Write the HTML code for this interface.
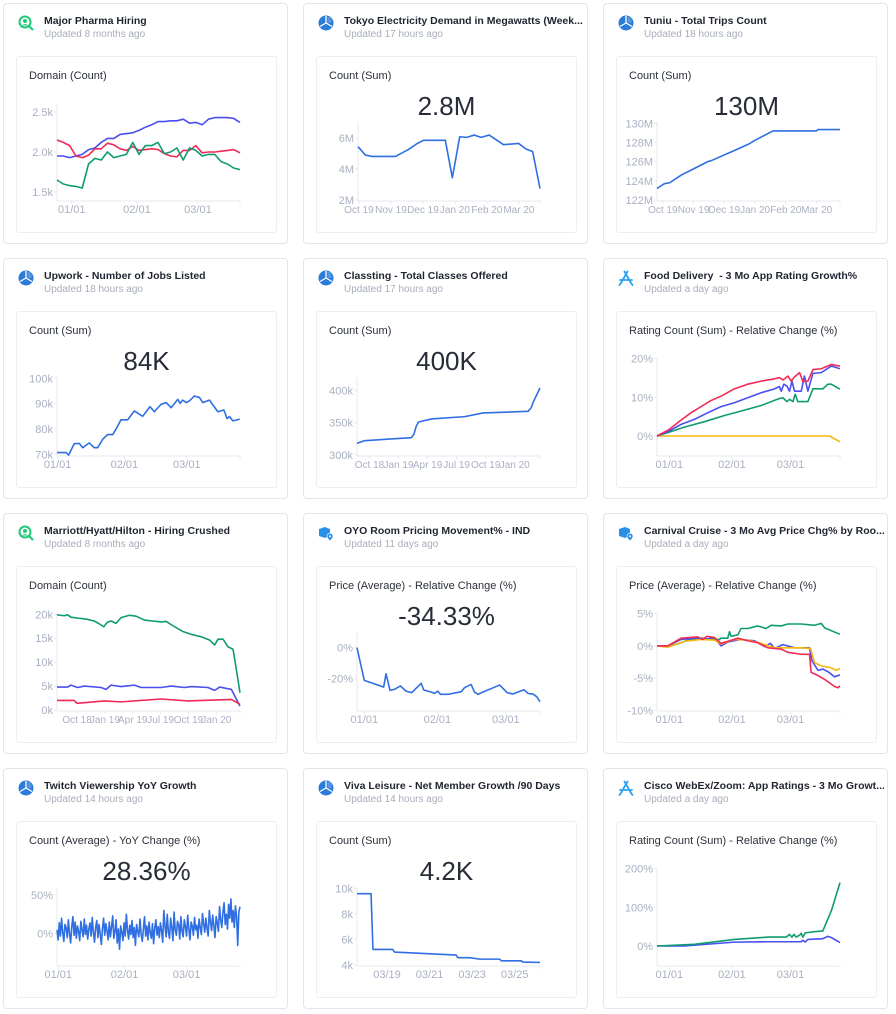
<!DOCTYPE html>
<html><head><meta charset="utf-8">
<style>
*{box-sizing:border-box;margin:0;padding:0}
body{width:896px;height:1014px;background:#fff;font-family:"Liberation Sans",sans-serif;position:relative;overflow:hidden}
.card{position:absolute;width:285px;height:241px;border:1px solid #e2e5ea;border-radius:4px;background:#fff}
.panel{position:absolute;left:12px;top:52px;width:261px;height:177px;border:1px solid #eceef2;border-radius:3px}
.title{position:absolute;left:40px;top:11px;max-width:240px;overflow:hidden;font-size:10.5px;font-weight:bold;color:#1f2430;white-space:nowrap}
.sub{position:absolute;left:40px;top:25px;font-size:10px;color:#a7adba;white-space:nowrap}
.ptitle{position:absolute;left:25px;top:66px;font-size:11px;color:#2b303b;white-space:nowrap}
.big{position:absolute;left:12px;width:261px;top:87px;text-align:center;font-size:26px;color:#272c38}
.icon{position:absolute;left:14px;top:11px;width:16px;height:16px}
svg.ch{position:absolute;left:0;top:0}
</style></head><body>
<script>
// ---------- DATA ----------
const pharmaX=[-7,-4,-1,2,5,8,11,14,17,20,23,26,29,32,35,38,41,44,47,50,53,56,59,62,65,68,71,74,77,80];
const pharmaBlue=[1.95,1.95,1.93,1.95,1.97,2.03,2.05,2.12,2.17,2.17,2.22,2.23,2.24,2.27,2.31,2.34,2.38,2.38,2.39,2.39,2.41,2.36,2.37,2.34,2.41,2.43,2.43,2.43,2.42,2.37];
const pharmaRed=[2.15,2.12,2.08,1.95,1.93,1.96,2.04,2.04,2.11,2.09,2.04,2.02,2.07,2.02,2.03,2.04,2.03,1.98,1.95,1.94,2.02,2.02,2.08,1.99,2.0,2.0,2.01,2.02,2.03,1.99];
const pharmaGreen=[1.65,1.6,1.58,1.57,1.55,1.85,1.92,1.9,2.0,1.93,1.95,1.97,2.12,1.97,2.08,2.08,2.12,1.98,2.0,2.05,1.9,2.05,2.02,1.95,1.97,1.97,1.88,1.85,1.8,1.78];
const tokyoX=[-0.03,0.2,0.41,1.14,1.55,1.81,2.02,2.7,2.92,3.15,3.37,3.6,3.82,4.07,4.52,4.99,5.22,5.43,5.66];
const tokyoY=[5.44,4.9,4.81,4.81,5.26,5.63,5.85,5.85,3.44,6.08,6.04,6.19,6.04,6.19,5.57,5.65,5.29,5.13,2.74];
const tuniuX=[-0.19,0.05,0.22,0.6,1.03,1.46,1.57,2.28,2.77,3.04,3.58,4.99,5.05,5.76];
const tuniuY=[123.2,123.7,123.8,124.6,125.3,126.0,126.1,127.1,127.8,128.3,129.2,129.2,129.35,129.35];
const upworkX=[-0.3,3.9,5.1,7.7,10.1,11.6,14.7,17.0,18.6,20.9,23.2,25.6,27.1,29.4,32.5,35.6,39.5,42.9,44.9,48.0,50.4,52.7,55.8,56.9,58.1,59.7,61.2,63.5,65.9,67.4,70.5,74.4,77.2,78.7,79.8,81.4,84.6];
const upworkY=[70.7,70.7,69.7,74.2,74.3,72.6,74.5,72.6,72.6,75.9,77.8,77.8,79.9,83.6,83.6,87.1,85.0,88.8,86.8,89.7,90.4,88.4,91.7,90.1,91.4,90.4,91.1,93.0,92.4,90.4,91.4,86.8,87.5,84.1,84.9,83.2,83.9];
const classX=[-0.43,-0.17,1.44,1.53,1.61,1.69,2.13,3.28,3.91,5.46,5.57,5.63,5.87];
const classY=[318,322.2,326.8,332,344.8,351,355.7,359.3,365,367.5,373.2,381,403.6];
const foodRed=[[-6.1,0],[0,1.7],[5.8,4.1],[10.7,6],[15.7,7.6],[20.7,9.2],[25.6,10.3],[32.2,12.2],[38.8,13.4],[45.5,14.2],[52.1,14.8],[54.5,15.1],[56.2,14.5],[58.7,15.5],[60.3,14.2],[62,15.3],[64.5,16.4],[66.1,14.1],[68.6,14.2],[71.1,17.2],[75.2,17.4],[80.2,18.5],[84.5,18.1]];
const foodBlue=[[-6.1,0],[0,1.3],[5.8,3],[12.4,4.3],[19,6],[25.6,7.6],[32.2,8.6],[38.8,9.9],[45.5,11.2],[52.1,12.2],[54.5,12.8],[55.4,11.6],[56.7,13.4],[58.3,12.9],[59.5,11.6],[60.7,14.2],[62,11.6],[65.3,11.6],[66.9,15.5],[68.6,11.6],[71.1,16.2],[75.2,16.4],[80.2,18.1],[84.5,17.4]];
const foodGreen=[[-6.1,0],[0,1],[7.4,2.3],[17.4,3.7],[27.3,5.3],[37.2,6.7],[45.5,7.9],[54.5,9.7],[56.2,9.9],[58.3,8.9],[59.5,9.5],[61.2,8.9],[62.3,10.8],[63.6,8.9],[68.6,8.9],[71.1,12.2],[76,12.2],[78.5,13.4],[80.2,13.4],[84.5,12.1]];
const foodYellow=[[-6.1,0],[79.3,0],[84.5,-1.5]];
const marX=[-0.72,-0.46,-0.34,-0.22,0.02,0.32,0.62,0.8,0.96,1.08,1.22,1.4,1.58,1.88,2.12,2.42,2.72,3.02,3.2,3.5,3.8,4.1,4.46,4.76,4.94,5.06,5.24,5.42,5.6,5.69,5.85];
const marGreen=[19.9,19.7,19.9,19.4,19.2,19,18.6,18,17.4,18.3,18.6,18.1,19.3,19.8,19.6,18.8,18.6,18.4,18.5,17.4,16.4,15.8,15.3,14.6,13.6,14.8,14.8,13.2,12.7,9.5,3.6];
const marBlue=[[-0.72,4.8],[-0.34,4.8],[-0.22,5.2],[0.02,4.7],[0.26,5],[0.86,4.7],[1.04,4.3],[1.22,5.2],[1.58,4.9],[2.06,5.2],[2.3,4.7],[3.02,4.7],[3.38,5],[3.86,4.7],[4.1,4.9],[4.7,4.7],[4.94,4.1],[5.12,4.8],[5.54,4.3],[5.85,0.8]];
const marRed=[[-0.72,2],[-0.1,2],[0,1.4],[0.98,1.9],[1.58,1.7],[3.02,2.3],[3.98,1.9],[5.54,2.2],[5.85,1.2]];
const oyoX=[-3.1,0,8.2,9.2,10.9,12.7,15.3,17.7,20.1,24.1,25.2,28.3,29.7,31.2,32.3,35.4,41.1,42.5,45.3,46.7,48.2,50.3,57.4,60.6,63,67.7,69.4,71.5,73.1,74.5];
const oyoY=[0,-21.1,-25.4,-16.8,-27.5,-26.9,-24.7,-28,-29,-23,-27.3,-28.6,-29.5,-28,-30.1,-30.1,-28.4,-25.8,-23.7,-28.6,-30.1,-28.6,-24.1,-29,-29.9,-27.1,-29.5,-29.9,-31.6,-34.8];
const carGreen=[[-6.1,0],[-0.8,0],[4.1,0.3],[9.1,0.9],[15.7,1.2],[22.3,1],[24.8,1],[25.6,1.2],[28.9,1.2],[29.8,2.2],[30.6,1.5],[33.9,1.7],[35.5,2.7],[38.8,2.7],[43.8,3.1],[47.9,2.7],[50.4,3.2],[55.4,3.1],[58.7,3.4],[65.3,3.4],[71.9,3.2],[75.2,3.5],[76.9,2.8],[84.5,1.8]];
const carBlue=[[-6.1,0],[-0.8,0],[5.8,1],[12.4,1.2],[19,1.1],[22.3,1.3],[25.6,0],[28.9,0.6],[32.2,0.8],[35.5,1],[42.1,0.8],[47.1,-0.1],[50.1,0.4],[52.1,-0.4],[56.2,0.2],[62,-0.3],[69.4,-0.3],[70.6,-2.3],[73.6,-3.8],[76,-3.6],[78.5,-4],[81.8,-4.8],[84.5,-4.5]];
const carRed=[[-6.1,0],[-0.8,0],[5.8,1.2],[14,1.4],[16.5,1],[18.7,1.5],[22.3,1.3],[25.6,0.4],[28.9,0.7],[33.9,1.2],[38.8,0.8],[43.8,0.5],[48.8,-0.3],[55.4,-0.5],[58.7,-1],[65.3,-1.3],[69.4,-1.3],[70.2,-4.1],[73.6,-4.6],[76.9,-5.2],[81.8,-6.3],[83.5,-6.5],[84.5,-6.2]];
const carYellow=[[-6.1,0],[-0.8,-0.2],[7.4,0.7],[15.7,1],[22.3,0.9],[25.6,0.3],[32.2,1],[38.8,0.9],[45.5,0.4],[52.1,-0.3],[58.7,-0.3],[65.3,-0.3],[69.9,-0.4],[71.9,-2.6],[75.2,-3.1],[80.2,-3.4],[82.6,-3.8],[84.5,-3.5]];
const twitchStart=-0.6, twitchEnd=85;
const twitchY=[5,-8,14,-3,20,2,-10,12,8,-5,18,0,-12,9,22,-2,15,-6,10,3,-9,16,5,-4,19,-1,11,-7,6,14,-3,21,2,-11,8,17,-5,12,0,-14,7,20,-2,13,4,-8,15,-4,9,23,-6,3,18,-12,6,-20,10,2,-9,14,-3,25,5,-7,11,-1,17,-5,8,-15,12,3,-4,19,0,-10,6,22,-3,10,-8,15,1,-6,13,-13,7,18,-2,9,-5,14,4,-11,30,10,-4,25,2,-6,20,8,-9,28,5,-2,16,12,-7,22,3,-4,18,9,-3,24,6,-8,15,10,-2,21,5,11,-6,19,8,-1,26,13,2,20,7,-3,30,15,4,24,10,-5,22,14,3,35,18,8,28,40,12,25,6,38,20,45,15,30,8,36,22,-15,28,35];
const vivaX=[17.59,18.25,18.34,19.27,19.35,22.25,22.33,22.88,23.35,24.29,24.37,25.31,25.39,26.19];
const vivaY=[9.58,9.58,5.22,5.22,5.01,4.78,4.57,4.57,4.46,4.46,4.33,4.33,4.23,4.2];
const ciscoGreen=[[-6.1,0],[12.4,4.3],[32.2,17],[48.8,23],[57.9,23],[59.5,30],[60.7,23],[61.7,30],[62.8,23],[64.5,28],[65.3,33],[66.1,23],[67.3,34],[71.9,37],[76,39],[80.2,91],[84.5,164]];
const ciscoBlue=[[-6.1,0],[7.4,0],[32.2,10],[48.8,11],[65.3,11],[66.1,15],[67.3,10],[68.6,17],[76,19],[78.5,25],[80.2,22],[84.5,9]];
const monthTicks=[0,31,60], monthLabels=['01/01','02/01','03/01'];
const m6Ticks=[0,1,2,3,4,5];
const tokyoLabels=['Oct 19','Nov 19','Dec 19','Jan 20','Feb 20','Mar 20'];
const quarterLabels=['Oct 18','Jan 19','Apr 19','Jul 19','Oct 19','Jan 20'];
const vivaTicks=[19,21,23,25], vivaLabels=['03/19','03/21','03/23','03/25'];

const BLUE='#4a4ff0',RED='#f22a55',GREEN='#0f9b72',YEL='#f6b90a',LINE='#2f6fe2';
const zip=(xs,ys)=>xs.map((x,i)=>[x,ys[i]]);
const twitchPts=twitchY.map((v,i)=>[twitchStart+i*(twitchEnd-twitchStart)/(twitchY.length-1),v]);

const cards=[
 {name:'major-pharma-hiring',icon:'hire',t:'Major Pharma Hiring',s:'Updated 8 months ago',p:'Domain (Count)',
  c:{l:53,r:236,top:100,bot:197,xd:[-7,80],yv:[1.5,2.5],yp:[188,108],yt:[1.5,2.0,2.5],yl:['1.5k','2.0k','2.5k'],xt:monthTicks,xl:monthLabels},
  s2:[[zip(pharmaX,pharmaBlue),BLUE],[zip(pharmaX,pharmaRed),RED],[zip(pharmaX,pharmaGreen),GREEN]]},
 {name:'tokyo-electricity',icon:'pie',t:'Tokyo Electricity Demand in Megawatts (Week...',s:'Updated 17 hours ago',p:'Count (Sum)',b:'2.8M',
  c:{l:54,r:236,top:119,bot:197,xd:[-0.03,5.66],yv:[2,6],yp:[196,134],yt:[2,4,6],yl:['2M','4M','6M'],xt:m6Ticks,xl:tokyoLabels},
  s2:[[zip(tokyoX,tokyoY),LINE]]},
 {name:'tuniu-trips',icon:'pie',t:'Tuniu - Total Trips Count',s:'Updated 18 hours ago',p:'Count (Sum)',b:'130M',
  c:{l:53,r:236,top:118,bot:197,xd:[-0.19,5.76],yv:[122,130],yp:[196,119.3],yt:[122,124,126,128,130],yl:['122M','124M','126M','128M','130M'],xt:m6Ticks,xl:tokyoLabels},
  s2:[[zip(tuniuX,tuniuY),LINE]]},
 {name:'upwork-jobs',icon:'pie',t:'Upwork - Number of Jobs Listed',s:'Updated 18 hours ago',p:'Count (Sum)',b:'84K',
  c:{l:53,r:236,top:118,bot:197,xd:[-0.3,84.7],yv:[70,100],yp:[195.3,119.3],yt:[70,80,90,100],yl:['70k','80k','90k','100k'],xt:monthTicks,xl:monthLabels},
  s2:[[zip(upworkX,upworkY),LINE]]},
 {name:'classting-classes',icon:'pie',t:'Classting - Total Classes Offered',s:'Updated 17 hours ago',p:'Count (Sum)',b:'400K',
  c:{l:53,r:236,top:118.7,bot:197,xd:[-0.43,5.87],yv:[300,400],yp:[196,131.3],yt:[300,350,400],yl:['300k','350k','400k'],xt:m6Ticks,xl:quarterLabels},
  s2:[[zip(classX,classY),LINE]]},
 {name:'food-delivery',icon:'app',t:'Food Delivery \u00a0- 3 Mo App Rating Growth%',s:'Updated a day ago',p:'Rating Count (Sum) - Relative Change (%)',
  c:{l:53,r:236,top:98.7,bot:197,xd:[-6.1,84.5],yv:[0,20],yp:[177,99.7],yt:[0,10,20],yl:['0%','10%','20%'],xt:monthTicks,xl:monthLabels},
  s2:[[foodYellow,YEL],[foodGreen,GREEN],[foodBlue,BLUE],[foodRed,RED]]},
 {name:'marriott-hiring',icon:'hire',t:'Marriott/Hyatt/Hilton - Hiring Crushed',s:'Updated 8 months ago',p:'Domain (Count)',
  c:{l:53,r:236,top:98.7,bot:197,xd:[-0.72,5.85],yv:[0,20],yp:[196,100.3],yt:[0,5,10,15,20],yl:['0k','5k','10k','15k','20k'],xt:m6Ticks,xl:quarterLabels},
  s2:[[zip(marX,marGreen),GREEN],[marBlue,BLUE],[marRed,RED]]},
 {name:'oyo-pricing',icon:'box',t:'OYO Room Pricing Movement% - IND',s:'Updated 11 days ago',p:'Price (Average) - Relative Change (%)',b:'-34.33%',
  c:{l:53,r:236,top:118.7,bot:197,xd:[-3.1,74.5],yv:[0,-20],yp:[133.7,164.7],yt:[0,-20],yl:['0%','-20%'],xt:monthTicks,xl:monthLabels},
  s2:[[zip(oyoX,oyoY),LINE]]},
 {name:'carnival-cruise',icon:'box',t:'Carnival Cruise - 3 Mo Avg Price Chg% by Roo...',s:'Updated a day ago',p:'Price (Average) - Relative Change (%)',
  c:{l:53,r:236,top:98.7,bot:197,xd:[-6.1,84.5],yv:[5,-10],yp:[99.7,196.3],yt:[5,0,-5,-10],yl:['5%','0%','-5%','-10%'],xt:monthTicks,xl:monthLabels},
  s2:[[carGreen,GREEN],[carBlue,BLUE],[carYellow,YEL],[carRed,RED]]},
 {name:'twitch-viewership',icon:'pie',t:'Twitch Viewership YoY Growth',s:'Updated 14 hours ago',p:'Count (Average) - YoY Change (%)',b:'28.36%',
  c:{l:53,r:236,top:118.7,bot:197,xd:[-0.6,85],yv:[0,50],yp:[164.7,126],yt:[0,50],yl:['0%','50%'],xt:monthTicks,xl:monthLabels},
  s2:[[twitchPts,LINE]]},
 {name:'viva-leisure',icon:'pie',t:'Viva Leisure - Net Member Growth /90 Days',s:'Updated 14 hours ago',p:'Count (Sum)',b:'4.2K',
  c:{l:53,r:236,top:118.7,bot:197,xd:[17.59,26.19],yv:[4,10],yp:[196,119.3],yt:[4,6,8,10],yl:['4k','6k','8k','10k'],xt:vivaTicks,xl:vivaLabels},
  s2:[[zip(vivaX,vivaY),LINE]]},
 {name:'cisco-webex-zoom',icon:'app',t:'Cisco WebEx/Zoom: App Ratings - 3 Mo Growt...',s:'Updated a day ago',p:'Rating Count (Sum) - Relative Change (%)',
  c:{l:53,r:236,top:98.7,bot:197,xd:[-6.1,84.5],yv:[0,200],yp:[177,99.7],yt:[0,100,200],yl:['0%','100%','200%'],xt:monthTicks,xl:monthLabels},
  s2:[[ciscoBlue,BLUE],[ciscoGreen,GREEN]]}
];

const icons={
 pie:'<svg width="16" height="16" viewBox="0 0 16 16"><circle cx="8" cy="8" r="7.5" fill="#2b7bd8"/><path d="M8 8V1M8 8L2 11.5M8 8l6 3.5" stroke="#fff" stroke-width="1.3"/><path d="M9.5 3h3M9.5 5h4M9.5 7h4" stroke="#9cc6f3" stroke-width=".8"/></svg>',
 hire:'<svg width="16" height="16" viewBox="0 0 16 16"><circle cx="7" cy="7" r="5.5" fill="none" stroke="#20c97a" stroke-width="2"/><circle cx="7" cy="6" r="2" fill="#20c97a"/><path d="M4 10.5q3-3 6 0" fill="#20c97a"/><path d="M11 11l4 4" stroke="#20c97a" stroke-width="2.2"/></svg>',
 app:'<svg width="16" height="16" viewBox="0 0 16 16"><path d="M9.5 1.5L3 13M6.5 1.5L13 13M2 10h12M3 13l-1.5 2M13 13l1.5 2" stroke="#2aa3f0" stroke-width="1.8" fill="none" stroke-linecap="round"/></svg>',
 box:'<svg width="16" height="16" viewBox="0 0 16 16"><path d="M1 4l6-2 5 2v6l-5 3-6-2z" fill="#2a8fe6"/><circle cx="12" cy="11" r="3.2" fill="#fff"/><path d="M12 15.5c-2-2.2-2.7-3.3-2.7-4.3a2.7 2.7 0 015.4 0c0 1-.7 2.1-2.7 4.3z" fill="#2a8fe6"/><circle cx="12" cy="11.2" r="1" fill="#fff"/></svg>'
};
const NS='http://www.w3.org/2000/svg';
cards.forEach((cd,i)=>{
  const col=i%3,row=Math.floor(i/3);
  const card=document.createElement('div');
  card.className='card';
  card.style.left=(3+300*col)+'px';card.style.top=(3+255*row)+'px';
  
  
  card.innerHTML='<div class="icon">'+icons[cd.icon]+'</div>'+
   '<div class="title">'+cd.t+'</div>'+
   '<div class="sub">'+cd.s+'</div>'+
   '<div class="panel"></div>'+
   '<div class="ptitle">'+cd.p+'</div>'+
   (cd.b?'<div class="big">'+cd.b+'</div>':'');
  document.body.appendChild(card);
  const c=cd.c;
  const sx=v=>c.l+(v-c.xd[0])/(c.xd[1]-c.xd[0])*(c.r-c.l);
  const sy=v=>c.yp[0]+(v-c.yv[0])/(c.yv[1]-c.yv[0])*(c.yp[1]-c.yp[0]);
  const xfs=c.xt.length>4?10:11;
  const svg=document.createElementNS(NS,'svg');
  svg.setAttribute('class','ch');svg.setAttribute('width','285');svg.setAttribute('height','241');
  
  
  let h='<line x1="'+c.l+'" y1="'+c.top+'" x2="'+c.l+'" y2="'+c.bot+'" stroke="#e5e8ee"/>';
  h+='<line x1="'+c.l+'" y1="'+c.bot+'" x2="'+c.r+'" y2="'+c.bot+'" stroke="#e5e8ee"/>';
  c.yt.forEach((v,k)=>{const y=sy(v);
    h+='<line x1="'+(c.l-3)+'" x2="'+c.l+'" y1="'+y+'" y2="'+y+'" stroke="#e5e8ee"/>';
    h+='<text x="'+(c.l-4)+'" y="'+(y+4)+'" text-anchor="end" font-size="11" fill="#a9b0c2">'+c.yl[k]+'</text>';});
  c.xt.forEach((v,k)=>{const x=sx(v);
    h+='<line x1="'+x+'" x2="'+x+'" y1="'+c.bot+'" y2="'+(c.bot+3)+'" stroke="#e5e8ee"/>';
    h+='<text x="'+x+'" y="'+(c.bot+12)+'" text-anchor="middle" font-size="'+xfs+'" fill="#a9b0c2">'+c.xl[k]+'</text>';});
  h+='<line x1="'+c.r+'" x2="'+c.r+'" y1="'+c.bot+'" y2="'+(c.bot+3)+'" stroke="#e5e8ee"/>';
  cd.s2.forEach(([pts,col])=>{
    const d=pts.map((p,j)=>(j?'L':'M')+sx(p[0]).toFixed(2)+' '+sy(p[1]).toFixed(2)).join('');
    h+='<path d="'+d+'" fill="none" stroke="'+col+'" stroke-width="1.6" stroke-linejoin="round"/>';
  });
  svg.innerHTML=h;
  card.appendChild(svg);
});
</script>
</body></html>
